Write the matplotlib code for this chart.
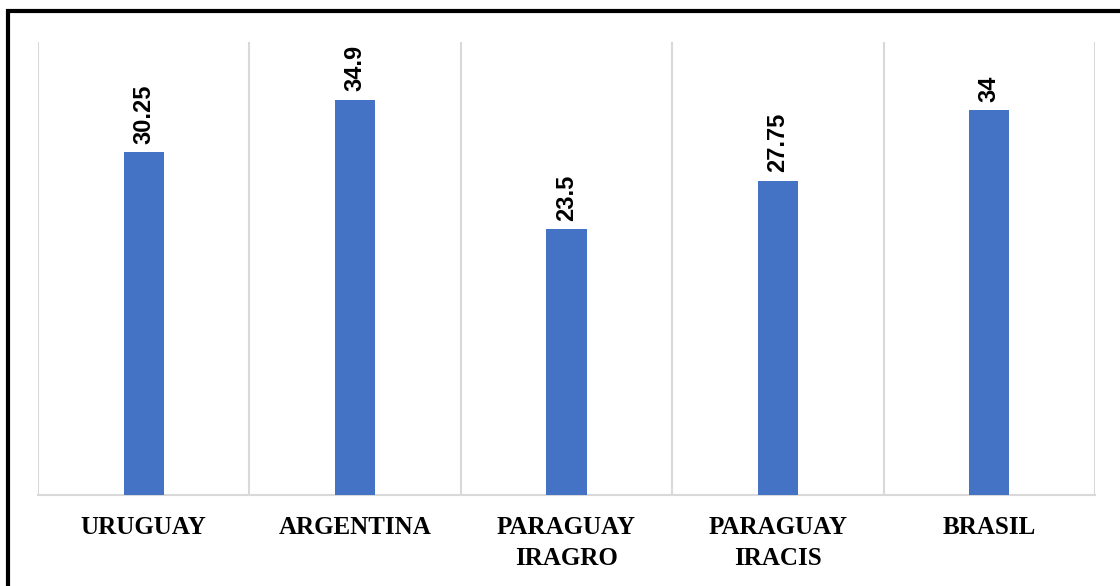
import matplotlib.pyplot as plt
from matplotlib.patches import Rectangle
import numpy as np

# datos
paises = ["URUGUAY", "ARGENTINA", "PARAGUAY\nIRAGRO", "PARAGUAY\nIRACIS", "BRASIL"]
valores = [30.25, 34.9, 23.5, 27.75, 34]
etiquetas = ["30.25", "34.9", "23.5", "27.75", "34"]

azul = "#4472c4"
gris = "#d9d9d9"

fig = plt.figure(figsize=(11.2, 5.86), dpi=100)
ax = fig.add_axes([38 / 1120, 1 - 495 / 586, (1095 - 38) / 1120, (495 - 42) / 586])

x = np.arange(len(paises))
barras = ax.bar(x, valores, width=0.19, color=azul, zorder=3)

for xi, v, t in zip(x, valores, etiquetas):
    ax.annotate(t, (xi, v), xytext=(0, 6), textcoords="offset points",
                rotation=90, ha="center", va="bottom",
                fontsize=17, fontweight="bold", family="Liberation Sans")

ax.set_xlim(-0.5, len(paises) - 0.5)
ax.set_ylim(0, 40)
ax.set_yticks([])
ax.set_xticks(x)
ax.set_xticklabels(paises, fontsize=18, fontweight="bold", family="Liberation Serif",
                   linespacing=1.45)
ax.tick_params(axis="x", length=0, pad=15)
ax.set_xticks(np.arange(-0.5, len(paises), 1), minor=True)
ax.tick_params(axis="x", which="minor", length=0)
ax.grid(axis="x", which="minor", color=gris, linewidth=1.5, zorder=0)

for s in ["top", "left", "right"]:
    ax.spines[s].set_visible(False)
ax.spines["bottom"].set_color(gris)
ax.spines["bottom"].set_linewidth(1.5)

# marco exterior
fig.patches.append(Rectangle((8 / 1120, -0.05), 1.2, 1 - 10.5 / 586 + 0.05,
                             transform=fig.transFigure, fill=False,
                             edgecolor="black", linewidth=3))

fig.savefig("out.png", dpi=100)
